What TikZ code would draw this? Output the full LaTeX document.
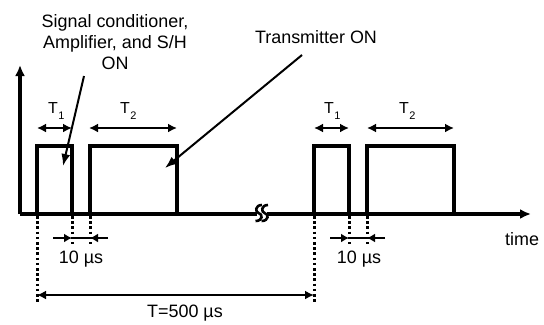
\documentclass[tikz,border=0pt]{standalone}
\usepackage{fontspec}
\setmainfont{Liberation Sans}
\usetikzlibrary{arrows.meta}
\newcommand{\tsub}[1]{T\kern0.5bp\raisebox{-6.5bp}{\fontsize{11}{11}\selectfont #1}}
\begin{document}
\begin{tikzpicture}[x=1bp,y=-1bp,
  ax/.style={line width=3.2bp},
  pulse/.style={line width=3.2bp},
  tip/.style={-{Latex[length=11bp,width=10bp]}},
  dimarr/.style={line width=2.6bp,{Latex[length=9bp,width=9bp]}-{Latex[length=9bp,width=9bp]}},
  dimone/.style={line width=2.4bp,-{Latex[length=8bp,width=9bp]}},
  dots/.style={line width=3bp, dash pattern=on 2.6bp off 2.6bp},
  pointer/.style={line width=2bp,-{Latex[length=12bp,width=9bp]}},
  lbl/.style={font=\fontsize{18}{21}\selectfont, inner sep=0pt},
  tlbl/.style={font=\fontsize{16}{20}\selectfont, inner sep=0pt, anchor=base west}]
\useasboundingbox[fill=white] (0,0) rectangle (544,324);

% axes
\coordinate (O) at (20,214);
\coordinate (ytop) at (20,65);
\coordinate (bkL) at (257,214);
\coordinate (bkR) at (267,214);
\coordinate (xend) at (531,214);
\draw[ax,tip] (O) -- (ytop);
\draw[ax] (O) -- (bkL);
\draw[ax,tip] (bkR) -- (xend);
% break mark
\draw[line width=2.6bp] (262,205) .. controls (255,205) and (255,212) .. (258.5,213)
   .. controls (263,214) and (263,221) .. (255.5,221);
\draw[line width=2.6bp] (268,205) .. controls (261,205) and (261,212) .. (264.5,213)
   .. controls (269,214) and (269,221) .. (261.5,221);

% pulses
\draw[pulse] (37,214) -- (37,146) -- (72,146) -- (72,214);
\draw[pulse] (90,214) -- (90,146) -- (177,146) -- (177,214);
\draw[pulse] (314,214) -- (314,146) -- (349,146) -- (349,214);
\draw[pulse] (367,214) -- (367,146) -- (454,146) -- (454,214);

% T1 / T2 arrows
\coordinate (a1) at (37,128); \coordinate (b1) at (72,128);
\coordinate (a2) at (89,128); \coordinate (b2) at (177,128);
\coordinate (a3) at (314,128); \coordinate (b3) at (349,128);
\coordinate (a4) at (367,128); \coordinate (b4) at (454,128);
\draw[dimarr] (a1) -- (b1);
\draw[dimarr] (a2) -- (b2);
\draw[dimarr] (a3) -- (b3);
\draw[dimarr] (a4) -- (b4);
\node[tlbl] (t1a) at (48,113) {\tsub{1}};
\node[tlbl] (t2a) at (120,113) {\tsub{2}};
\node[tlbl] (t1b) at (324,113) {\tsub{1}};
\node[tlbl] (t2b) at (399,113) {\tsub{2}};

% dotted extension lines
\draw[dots] (72,216) -- (72,244);
\draw[dots] (90,216) -- (90,244);
\draw[dots] (349,216) -- (349,244);
\draw[dots] (367,216) -- (367,244);
\draw[dots] (37,216) -- (37,303);
\draw[dots] (314,216) -- (314,303);

% 10 us dimensions
\coordinate (g1l) at (53,238); \coordinate (g1a) at (72,238);
\coordinate (g1b) at (90,238); \coordinate (g1r) at (108,238);
\draw[dimone] (g1l) -- (g1a);
\draw[dimone] (g1r) -- (g1b);
\draw[line width=2.4bp] (g1a) -- (g1b);
\coordinate (g2l) at (330,238); \coordinate (g2a) at (349,238);
\coordinate (g2b) at (367,238); \coordinate (g2r) at (385,238);
\draw[dimone] (g2l) -- (g2a);
\draw[dimone] (g2r) -- (g2b);
\draw[line width=2.4bp] (g2a) -- (g2b);
\node[lbl,anchor=base] (us1) at (81,263) {10 µs};
\node[lbl,anchor=base] (us2) at (359,263) {10 µs};

% period
\coordinate (p1) at (37,295); \coordinate (p2) at (314,295);
\draw[dimarr] (p1) -- (p2);
\node[lbl,anchor=base] (per) at (185,317) {T=500 µs};

% labels
\node[lbl,align=center] (sig) at (115,42) {Signal conditioner,\\Amplifier, and S/H\\ON};
\node[lbl,anchor=base] (tx) at (316,43) {Transmitter ON};
\node[lbl,anchor=base west] (time) at (505,245) {time};

% pointers
\coordinate (s1) at (84,76); \coordinate (s2) at (63,166);
\coordinate (r1) at (302,55); \coordinate (r2) at (165,168);
\draw[pointer] (s1) -- (s2);
\draw[pointer] (r1) -- (r2);
\end{tikzpicture}
\end{document}
